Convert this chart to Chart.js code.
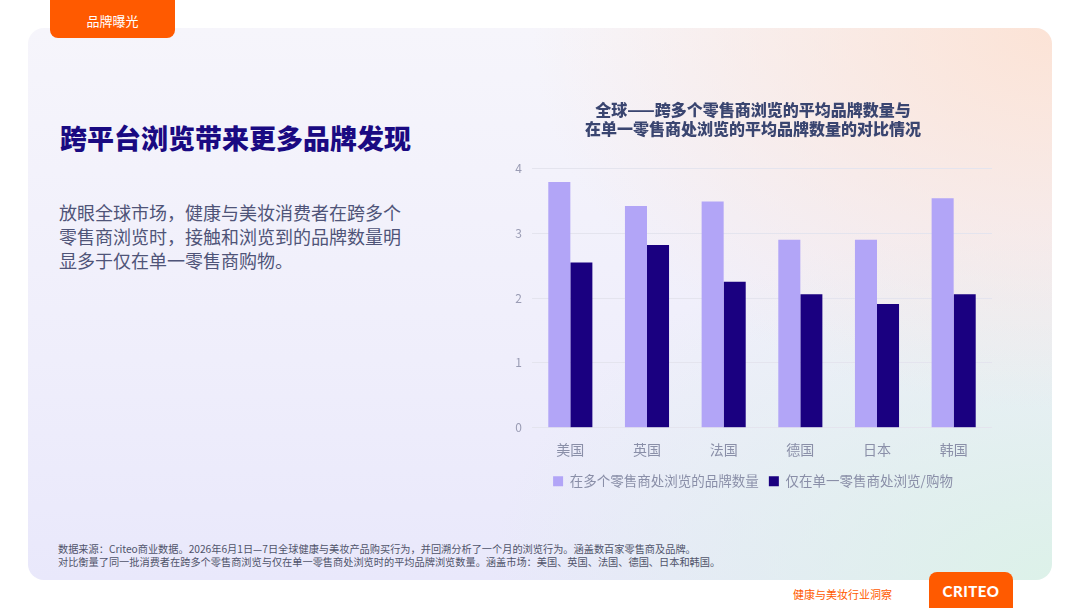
<!DOCTYPE html>
<html><head><meta charset="utf-8">
<script src="https://cdn.jsdelivr.net/npm/chart.js@4.4.0/dist/chart.umd.min.js"></script>
<style>
html,body{margin:0;padding:0;width:1080px;height:608px;overflow:hidden;background:#fff;font-family:"Noto Sans CJK SC","Noto Sans",sans-serif;}
#card{position:absolute;left:28px;top:28px;width:1024px;height:552px;border-radius:16px;
background:
 radial-gradient(ellipse 520px 380px at 1024px 0px, rgba(252,226,212,0.95), rgba(252,226,212,0) 100%),
 radial-gradient(ellipse 560px 360px at 1024px 552px, rgba(220,242,232,0.95), rgba(220,242,232,0) 100%),
 linear-gradient(180deg,#f6f5fb 0%,#efeefb 60%,#e9e8fb 100%);}
#tab{position:absolute;left:50px;top:0;width:125px;height:38px;background:#ff5a00;border-radius:0 0 8px 8px;color:#fff;font-size:13px;text-align:center;line-height:42px;}
#h1{position:absolute;left:60px;top:118px;font-size:27px;font-weight:900;color:#1a0a82;white-space:nowrap;}
#body{position:absolute;left:59px;top:200px;font-size:18px;line-height:24px;color:#4f5478;width:350px;}
#foot{position:absolute;left:58px;top:542px;font-size:10.2px;line-height:13px;color:#50546a;white-space:nowrap;}
#brand{position:absolute;left:793px;top:586px;font-size:11px;color:#ff5a00;white-space:nowrap;}
#logo{position:absolute;left:929px;top:572px;width:84px;height:36px;background:#ff5a00;border-radius:8px 8px 0 0;color:#fff;font-family:"Lato","Noto Sans",sans-serif;font-weight:900;font-size:15px;text-align:center;line-height:38px;letter-spacing:0.5px;}
#wrap{position:absolute;left:500px;top:94px;width:510px;height:404px;}
</style></head>
<body>
<div id="card"></div>
<div id="tab">品牌曝光</div>
<div id="h1">跨平台浏览带来更多品牌发现</div>
<div id="body">放眼全球市场，健康与美妆消费者在跨多个零售商浏览时，接触和浏览到的品牌数量明显多于仅在单一零售商购物。</div>
<div id="foot">数据来源：Criteo商业数据。2026年6月1日—7日全球健康与美妆产品购买行为，并回溯分析了一个月的浏览行为。涵盖数百家零售商及品牌。<br>对比衡量了同一批消费者在跨多个零售商浏览与仅在单一零售商处浏览时的平均品牌浏览数量。涵盖市场：美国、英国、法国、德国、日本和韩国。</div>
<div id="brand">健康与美妆行业洞察</div>
<div id="logo">CRITEO</div>
<div id="wrap"><canvas id="c"></canvas></div>
<script>
const categories = ["美国","英国","法国","德国","日本","韩国"];
const multiRetailer = [3.79, 3.42, 3.49, 2.90, 2.90, 3.54];
const singleRetailer = [2.55, 2.82, 2.25, 2.06, 1.91, 2.06];
const seriesNames = ["在多个零售商处浏览的品牌数量","仅在单一零售商处浏览/购物"];
const titleLines = ["全球——跨多个零售商浏览的平均品牌数量与","在单一零售商处浏览的平均品牌数量的对比情况"];
const yTicks = [0,1,2,3,4];

const font = '"Noto Sans CJK SC","Noto Sans",sans-serif';
new Chart(document.getElementById('c'), {
  type:'bar',
  data:{labels:categories,datasets:[
    {label:seriesNames[0],data:multiRetailer,backgroundColor:'#b2a5f7',barPercentage:1,categoryPercentage:0.575},
    {label:seriesNames[1],data:singleRetailer,backgroundColor:'#1a0080',barPercentage:1,categoryPercentage:0.575}
  ]},
  options:{
    responsive:true,maintainAspectRatio:false,animation:false,
    layout:{padding:{left:14,right:18,top:0,bottom:0}},
    plugins:{
      title:{display:true,text:titleLines,color:'#3a4570',font:{family:font,size:16,weight:'900',lineHeight:1.2},padding:{top:6,bottom:30}},
      legend:{position:'bottom',labels:{color:'#8a8fa8',font:{family:font,size:13.5},boxWidth:10,boxHeight:10,padding:10}},
      tooltip:{enabled:false}
    },
    scales:{
      x:{grid:{display:false},border:{display:false},ticks:{color:'#8a8fa8',font:{family:font,size:14},padding:6}},
      y:{min:0,max:4,afterBuildTicks:(s)=>{s.ticks=yTicks.map(v=>({value:v}));},
        afterFit:(s)=>{s.width=18;},
        grid:{color:'#e4e4ee',drawTicks:false},border:{display:false},
        ticks:{color:'#9a9cb4',font:{family:font,size:12},padding:10}}
    }
  }
});
</script>
</body></html>
